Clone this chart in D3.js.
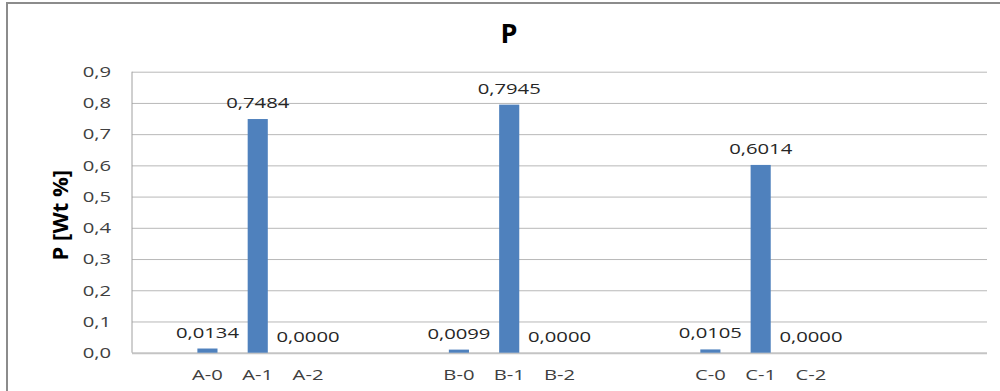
<!DOCTYPE html>
<html>
<head>
<meta charset="utf-8">
<script src="https://cdn.jsdelivr.net/npm/d3@7"></script>
<style>
  html, body { margin: 0; padding: 0; background: #fff; }
  svg { display: block; font-family: "Open Sans", sans-serif; }
</style>
</head>
<body>
<svg id="chart" width="1000" height="391"></svg>
<script>
// Category slots (empty strings are spacer slots between sample groups)
const categories = ["", "A-0", "A-1", "A-2", "", "", "B-0", "B-1", "B-2", "", "", "C-0", "C-1", "C-2", "", "", ""];
// P content in Wt % for each slot (null = no bar)
const values = [null, 0.0134, 0.7484, 0.0000, null, null, 0.0099, 0.7945, 0.0000, null, null, 0.0105, 0.6014, 0.0000, null, null, null];
const yTicks = [0, 0.1, 0.2, 0.3, 0.4, 0.5, 0.6, 0.7, 0.8, 0.9];
const chartTitle = "P";
const yTitle = "P [Wt %]";

const svg = d3.select("#chart");
const margin = { left: 132, right: 13, top: 71.7, bottom: 38.3 };
const W = 1000, H = 391;
const stretch = 1.35;
const fs = 15;

const fmt = v => v.toFixed(4).replace(".", ",");
const fmtTick = v => v.toFixed(1).replace(".", ",");

const x = d3.scaleBand()
  .domain(d3.range(categories.length))
  .range([margin.left, W - margin.right])
  .paddingInner(0.6)
  .paddingOuter(0.3);

const y = d3.scaleLinear()
  .domain([0, 0.9])
  .range([H - margin.bottom, margin.top]);

// outer chart frame
svg.append("rect")
  .attr("x", 7).attr("y", 3)
  .attr("width", 1100).attr("height", 500)
  .attr("fill", "none").attr("stroke", "#8c8c8c").attr("stroke-width", 2);

// horizontal gridlines
const grid = svg.append("g")
  .attr("transform", `translate(${margin.left},0)`)
  .call(d3.axisLeft(y).tickValues(yTicks).tickSize(-(W - margin.right - margin.left)).tickFormat(""));
grid.select(".domain").remove();
grid.selectAll("line").attr("stroke", "#b8b8b8").attr("stroke-width", 1);
grid.selectAll(".tick").filter(d => d === 0).select("line").attr("stroke", "#c4c4c4").attr("stroke-width", 2);

// vertical axis line
svg.append("line")
  .attr("x1", margin.left).attr("x2", margin.left)
  .attr("y1", y(0.9)).attr("y2", y(0))
  .attr("stroke", "#a0a0a0").attr("stroke-width", 1);

// y axis tick labels
const yAxis = svg.append("g")
  .attr("transform", `translate(${margin.left},0)`)
  .call(d3.axisLeft(y).tickValues(yTicks).tickSize(0).tickPadding(21).tickFormat(fmtTick));
yAxis.select(".domain").remove();
yAxis.selectAll("text")
  .attr("font-size", fs).attr("fill", "#404040").attr("font-family", "Open Sans, sans-serif")
  .attr("x", null)
  .attr("transform", `translate(-21,0) scale(${stretch},1)`);

// x axis category labels
const xAxis = svg.append("g")
  .attr("transform", `translate(0,${y(0)})`)
  .call(d3.axisBottom(x).tickSize(0).tickPadding(17).tickFormat(i => categories[i]));
xAxis.select(".domain").remove();
xAxis.selectAll("text")
  .attr("font-size", fs).attr("fill", "#404040").attr("font-family", "Open Sans, sans-serif")
  .attr("y", null)
  .attr("transform", `translate(0,17) scale(${stretch},1)`);

const data = values.map((v, i) => ({ i, v })).filter(d => d.v !== null);

// bars
svg.append("g").selectAll("rect")
  .data(data)
  .join("rect")
  .attr("x", d => x(d.i))
  .attr("width", x.bandwidth())
  .attr("y", d => y(d.v))
  .attr("height", d => y(0) - y(d.v))
  .attr("fill", "#4f81bd");

// value labels
svg.append("g").selectAll("text")
  .data(data)
  .join("text")
  .attr("text-anchor", "middle")
  .attr("font-size", fs)
  .attr("fill", "#262626")
  .attr("transform", d => `translate(${x(d.i) + x.bandwidth() / 2},${y(d.v) - 11}) scale(${stretch},1)`)
  .text(d => fmt(d.v));

// chart title
svg.append("text")
  .attr("x", 509).attr("y", 43)
  .attr("text-anchor", "middle")
  .attr("font-size", 27).attr("font-weight", "bold")
  .attr("fill", "#000")
  .text(chartTitle);

// y axis title
svg.append("text")
  .attr("transform", `translate(68,${(y(0) + y(0.9)) / 2 + 3}) rotate(-90)`)
  .attr("text-anchor", "middle")
  .attr("font-size", 22).attr("font-weight", "bold")
  .attr("fill", "#000")
  .text(yTitle);
</script>
</body>
</html>
